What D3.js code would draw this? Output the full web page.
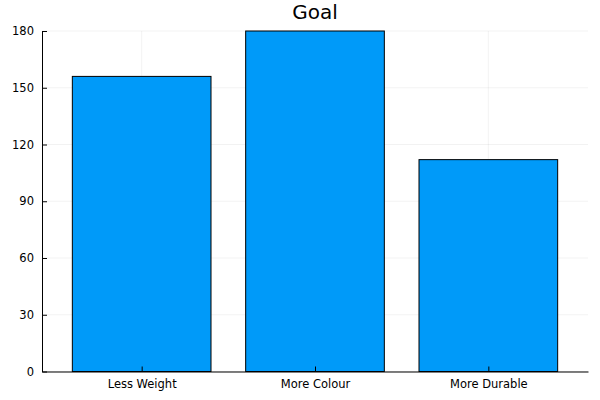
<!DOCTYPE html>
<html>
<head>
<meta charset="utf-8">
<script src="https://cdn.jsdelivr.net/npm/d3@7.9.0/dist/d3.min.js"></script>
<style>
  body { margin: 0; background: #fff; }
  svg { font-family: "DejaVu Sans", sans-serif; }
</style>
</head>
<body>
<svg width="600" height="400"></svg>
<script>
const categories = ['Less Weight', 'More Colour', 'More Durable'];
const counts = [156, 180, 112];
const yTicks = [0, 30, 60, 90, 120, 150, 180];

const svg = d3.select('svg');
const plotLeft = 42, plotRight = 588, plotTop = 31, plotBottom = 371.5;

let x = d3.scaleLinear().domain([-0.075, 3.075]).range([plotLeft, plotRight]);
let y = d3.scaleLinear().domain([0, 180]).range([plotBottom, plotTop]);

// grid
svg.append('g')
    .selectAll('line')
    .data(yTicks)
    .join('line')
    .attr('x1', plotLeft).attr('x2', plotRight)
    .attr('y1', d => y(d)).attr('y2', d => y(d))
    .attr('stroke', '#000').attr('stroke-opacity', 0.1).attr('stroke-width', 0.5);

svg.append('g')
    .selectAll('line')
    .data(categories)
    .join('line')
    .attr('x1', (d, i) => x(i + 0.5)).attr('x2', (d, i) => x(i + 0.5))
    .attr('y1', plotTop).attr('y2', plotBottom)
    .attr('stroke', '#000').attr('stroke-opacity', 0.1).attr('stroke-width', 0.5);

// bars
svg.append('g')
    .selectAll('rect')
    .data(counts)
    .join('rect')
    .attr('x', (d, i) => x(i + 0.1))
    .attr('width', x(0.8) - x(0))
    .attr('y', d => y(d))
    .attr('height', d => y(0) - y(d))
    .attr('fill', '#009af9')
    .attr('stroke', '#000')
    .attr('stroke-width', 1);

// y axis
let yAxis = svg.append('g').attr('transform', `translate(${plotLeft},0)`)
    .call(d3.axisLeft(y).tickValues(yTicks).tickSizeInner(-5).tickSizeOuter(0).tickPadding(8));
yAxis.select('.domain').attr('stroke', '#000');
yAxis.selectAll('text').attr('font-size', 11.5).attr('fill', '#000').attr('font-family', '"DejaVu Sans", sans-serif');

// x axis
let xAxis = svg.append('g').attr('transform', `translate(0,${plotBottom})`)
    .call(d3.axisBottom(x).tickValues([0.5, 1.5, 2.5]).tickFormat((d, i) => categories[i])
        .tickSizeInner(-5).tickSizeOuter(0).tickPadding(8));
xAxis.select('.domain').attr('stroke', '#000');
xAxis.selectAll('text').attr('font-size', 11.5).attr('fill', '#000').attr('font-family', '"DejaVu Sans", sans-serif');

// title
svg.append('text')
    .attr('x', (plotLeft + plotRight) / 2).attr('y', 19)
    .attr('text-anchor', 'middle')
    .attr('font-size', 20)
    .text('Goal');
</script>
</body>
</html>
